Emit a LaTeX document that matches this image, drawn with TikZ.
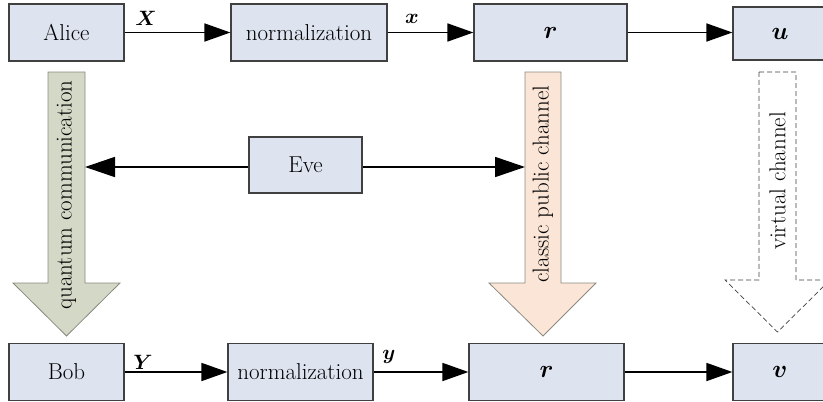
\documentclass[tikz,border=0pt]{standalone}
\usepackage{amsmath}
\usetikzlibrary{arrows.meta}
\definecolor{boxfill}{HTML}{DDE4F0}
\definecolor{boxline}{HTML}{404040}
\definecolor{qfill}{HTML}{D4D8C7}
\definecolor{cfill}{HTML}{FBE5D6}
\definecolor{aline}{HTML}{8A8A80}
\tikzset{
  blk/.style={draw=boxline, line width=1.2pt, fill=boxfill, inner sep=0pt,
    font=\fontsize{23}{27}\selectfont},
  flow/.style={line width=1.7pt, -{Triangle[length=26pt,width=18pt]}},
  lab/.style={font=\fontsize{22}{26}\selectfont\boldmath, inner sep=0pt},
  chan/.style={font=\fontsize{23}{27}\selectfont, rotate=90, inner sep=0pt},
}
\begin{document}
\begin{tikzpicture}[x=1pt,y=-1pt]
\useasboundingbox (0,0) rectangle (823,402);
% top row
\node[blk, minimum width=115pt, minimum height=57pt] (alice) at (66.5,32.5) {Alice};
\node[blk, minimum width=156pt, minimum height=57pt] (norm1) at (309,32.5) {normalization};
\node[blk, minimum width=153pt, minimum height=57pt] (r1) at (550.5,32.5) {$\boldsymbol{r}$};
\node[blk, minimum width=94pt, minimum height=53pt] (u) at (780,33.5) {$\boldsymbol{u}$};
% bottom row
\node[blk, minimum width=115pt, minimum height=57pt] (bob) at (66.5,372) {Bob};
\node[blk, minimum width=145pt, minimum height=57pt] (norm2) at (300.5,372) {normalization};
\node[blk, minimum width=155pt, minimum height=57pt] (r2) at (546.5,372) {$\boldsymbol{r}$};
\node[blk, minimum width=94pt, minimum height=57pt] (v) at (780,372) {$\boldsymbol{v}$};
% Eve
\node[blk, minimum width=113pt, minimum height=56pt] (eve) at (305.5,165) {Eve};
% flows
\draw[flow] (alice.east) -- (norm1.west);
\draw[flow] (norm1.east) -- (r1.west);
\draw[flow] (r1.east) -- (u.west |- r1.east);
\draw[flow] (bob.east) -- (norm2.west);
\draw[flow] (norm2.east) -- (r2.west);
\draw[flow] (r2.east) -- (v.west);
\node[lab] (lX) at (146,18) {$X$};
\node[lab] (lx) at (412,19) {$x$};
\node[lab] (lY) at (143,362) {$Y$};
\node[lab] (ly) at (389,357) {$y$};
% block arrows
\draw[draw=aline, line width=0.8pt, fill=qfill]
  (48,72) -- (85,72) -- (85,283) -- (120,283) -- (66.5,336) -- (13,283) -- (48,283) -- cycle;
\node[chan] (qlab) at (66.5,195) {quantum communication};
\draw[draw=aline, line width=0.8pt, fill=cfill]
  (525,72) -- (561,72) -- (561,283) -- (596,283) -- (543,336) -- (489,283) -- (525,283) -- cycle;
\node[chan] (clab) at (543,184) {classic public channel};
\draw[draw=boxline, line width=0.7pt, dash pattern=on 5pt off 3pt, fill=white]
  (759,72) -- (796,72) -- (796,280) -- (830,280) -- (777.5,332) -- (725,280) -- (759,280) -- cycle;
\node[chan] (vlab) at (777.5,181) {virtual channel};
% Eve arrows
\coordinate (qin) at (85,167);
\coordinate (cin) at (525,167);
\draw[line width=1.7pt, -{Triangle[length=30pt,width=20pt]}] (eve.west |- qin) -- (qin);
\draw[line width=1.7pt, -{Triangle[length=30pt,width=20pt]}] (eve.east |- cin) -- (cin);
\end{tikzpicture}
\end{document}
